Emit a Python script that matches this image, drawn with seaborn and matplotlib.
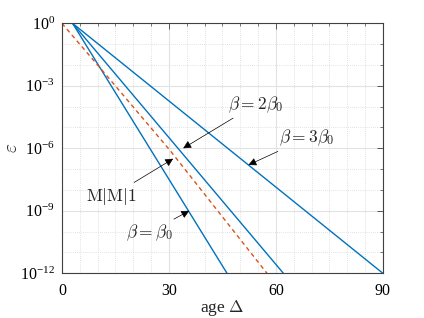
import numpy as np
import pandas as pd
import matplotlib
matplotlib.use("Agg")
import matplotlib.pyplot as plt
import matplotlib.ticker as mticker
import seaborn as sns

# ----------------------------------------------------------
# data
# ----------------------------------------------------------
age_b1 = [3.0, 46.3]
eps_b1 = [1.0, 1e-12]

age_b2 = [3.0, 62.1]
eps_b2 = [1.0, 1e-12]

age_b3 = [3.0, 90.0]
eps_b3 = [1.0, 1e-12]

age_mm1 = [0.0, 12.0, 30.3, 57.5]
eps_mm1 = [1.0, 4e-3, 8e-7, 1e-12]

x_ticks = [0, 30, 60, 90]
y_ticks = [1e0, 1e-3, 1e-6, 1e-9, 1e-12]

sns.set_style("white")
plt.rcParams["font.family"] = ["Liberation Serif", "DejaVu Serif"]
plt.rcParams["mathtext.fontset"] = "cm"

blue = "#0072BD"
red = "#D95319"

fig = plt.figure(figsize=(4.24, 3.18), dpi=100)
ax = fig.add_axes([0.146, 0.1406, 0.757, 0.786])

sns.lineplot(x=age_b1, y=eps_b1, ax=ax, color=blue, lw=1.0)
sns.lineplot(x=age_b2, y=eps_b2, ax=ax, color=blue, lw=1.0)
sns.lineplot(x=age_b3, y=eps_b3, ax=ax, color=blue, lw=1.0)
sns.lineplot(x=age_mm1, y=eps_mm1, ax=ax, color=red, lw=1.0,
             linestyle=(0, (3, 2.5)))

ax.set_yscale("log")
ax.set_xlim(0, 90)
ax.set_ylim(1e-12, 1)
ax.set_xticks(x_ticks)
ax.set_yticks(y_ticks)
ax.xaxis.set_minor_locator(mticker.MultipleLocator(5))
ax.yaxis.set_minor_locator(mticker.LogLocator(base=10, numticks=20))
ax.yaxis.set_minor_formatter(mticker.NullFormatter())
ax.yaxis.set_major_formatter(mticker.FuncFormatter(
    lambda v, p: r"$\mathregular{10^{%d}}$" % int(round(np.log10(v)))))

ax.grid(True, which="major", color="#e2e2e2", lw=0.8, ls="-")
ax.grid(True, which="minor", color="#d8d8d8", lw=0.6, ls=(0, (1, 1.5)))
ax.set_axisbelow(True)

ax.tick_params(which="both", direction="in", top=True, right=True,
               colors="#404040", labelcolor="black", labelsize=11.5)
ax.tick_params(axis="x", pad=7)
ax.tick_params(axis="y", pad=5)
ax.tick_params(which="major", length=4, width=0.6)
ax.tick_params(which="minor", length=2.5, width=0.5)
for s in ax.spines.values():
    s.set_color("#404040")
    s.set_linewidth(0.8)

ax.set_xlabel(r"age $\Delta$", fontsize=12.5, labelpad=-1)
ax.set_ylabel(r"$\varepsilon$", fontsize=14, labelpad=-1)

arrow = dict(arrowstyle="-|>", color="black", lw=0.5,
             mutation_scale=12, shrinkA=0, shrinkB=0)
ax.annotate(r"$\beta = 3\beta_0$", xy=(52.3, 10**-6.8), xytext=(61.0, 10**-5.5),
            fontsize=12.5, va="center", ha="left", arrowprops=arrow)
ax.annotate(r"$\beta = 2\beta_0$", xy=(34.0, 10**-6.0), xytext=(46.5, 10**-3.9),
            fontsize=12.5, va="center", ha="left", arrowprops=arrow)
ax.annotate(r"$\mathrm{M|M|1}$", xy=(31.2, 10**-6.5), xytext=(21.0, 10**-8.3),
            fontsize=12.5, va="center", ha="right", arrowprops=arrow)
ax.annotate(r"$\beta = \beta_0$", xy=(35.7, 10**-9.0), xytext=(31.0, 10**-10.05),
            fontsize=12.5, va="center", ha="right", arrowprops=arrow)

fig.savefig("out.png", dpi=100)
